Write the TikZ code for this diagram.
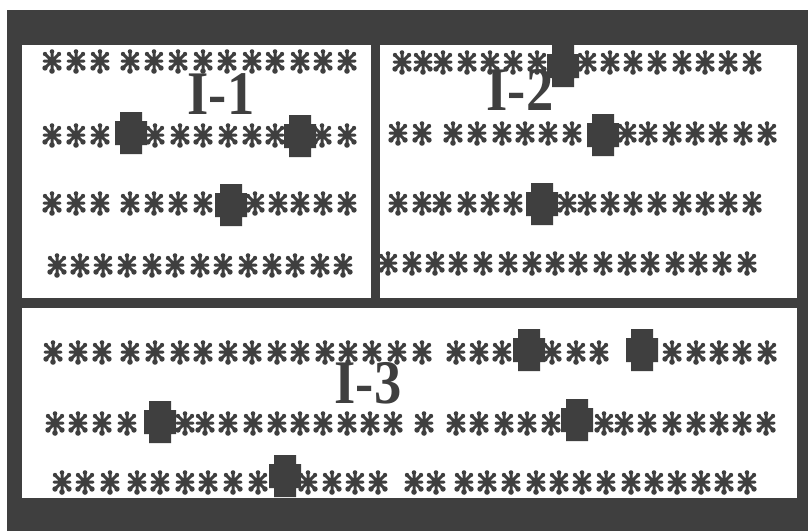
\documentclass[tikz,border=0pt]{standalone}
\usepackage{fontspec}
\setmainfont{Liberation Serif}
\definecolor{ink}{HTML}{3F3F3F}
\tikzset{
  sym/.pic={
    \draw[ink, line width=3pt, line cap=round] (0,-8.5)--(0,8.5) (-8,0)--(8,0) (-6,-6)--(6,6) (-6,6)--(6,-6);
    \fill[ink] (0,-9.5) circle (2.3) (0,10) circle (2.8) (-7,7) circle (2.7) (7,7) circle (2.7) (-7,-7) circle (2.2) (7,-7) circle (2.2);
  },
  blob/.pic={\fill[ink] (-11,-21) rectangle (11,21) (-16,-12) rectangle (16,12);},
  lbl/.style={text=ink, font=\fontsize{62}{62}\selectfont\bfseries, inner sep=0pt, xscale=0.88}
}
\begin{document}
\begin{tikzpicture}[x=1pt,y=-1pt]
\useasboundingbox (0,0) rectangle (808,531);
\fill[white] (0,0) rectangle (808,531);
\fill[ink] (7,10) rectangle (808,531);
\fill[white] (22,45) rectangle (371,298);
\fill[white] (380,45) rectangle (797,298);
\fill[white] (22,308) rectangle (797,498);
% I-1
\foreach \x in {52,76,100,130,154,178,203,227,252,275,300,323,347} \pic at (\x,61) {sym};
\foreach \x in {52,76,100,155,180,203,228,252,275,322,347} \pic at (\x,135) {sym};
\foreach \x in {52,76,100,130,154,178,203,255,278,300,323,347} \pic at (\x,203) {sym};
\foreach \x in {57,80,103,127,152,175,200,223,248,272,295,320,343} \pic at (\x,265) {sym};
\pic at (131,133) {blob};
\pic at (300,136) {blob};
\pic at (231,205) {blob};
\node[lbl] (l1) at (221,94) {I-1};
% I-2
\foreach \x in {402,423,443,467,490,513,537,587,610,633,657,682,705,728,752} \pic at (\x,62) {sym};
\foreach \x in {398,422,453,477,502,525,548,572,627,648,672,695,718,743,767} \pic at (\x,133) {sym};
\foreach \x in {398,422,442,467,490,513,567,587,610,633,657,682,705,728,752} \pic at (\x,203) {sym};
\foreach \x in {388,412,435,458,483,508,532,555,578,603,627,650,675,698,722,747} \pic at (\x,263) {sym};
\pic at (563,66) {blob};
\pic at (603,135) {blob};
\pic at (542,204) {blob};
\node[lbl] (l2) at (520,90) {I-2};
% I-3
\foreach \x in {53,78,102,130,155,180,203,228,252,277,300,325,348,372,397,422,456,479,502,552,576,599,672,696,719,742,767} \pic at (\x,352) {sym};
\foreach \x in {55,78,102,127,185,205,228,253,277,300,323,347,370,393,424,456,479,504,527,551,604,624,647,672,696,719,742,766} \pic at (\x,423) {sym};
\foreach \x in {62,85,110,137,160,185,208,233,258,308,332,355,378,414,436,464,487,511,536,559,582,606,631,654,677,701,724,747} \pic at (\x,482) {sym};
\pic at (529,350) {blob};
\pic at (642,350) {blob};
\pic at (160,422) {blob};
\pic at (577,420) {blob};
\pic at (285,476) {blob};
\node[lbl] (l3) at (368,383) {I-3};
\end{tikzpicture}
\end{document}
